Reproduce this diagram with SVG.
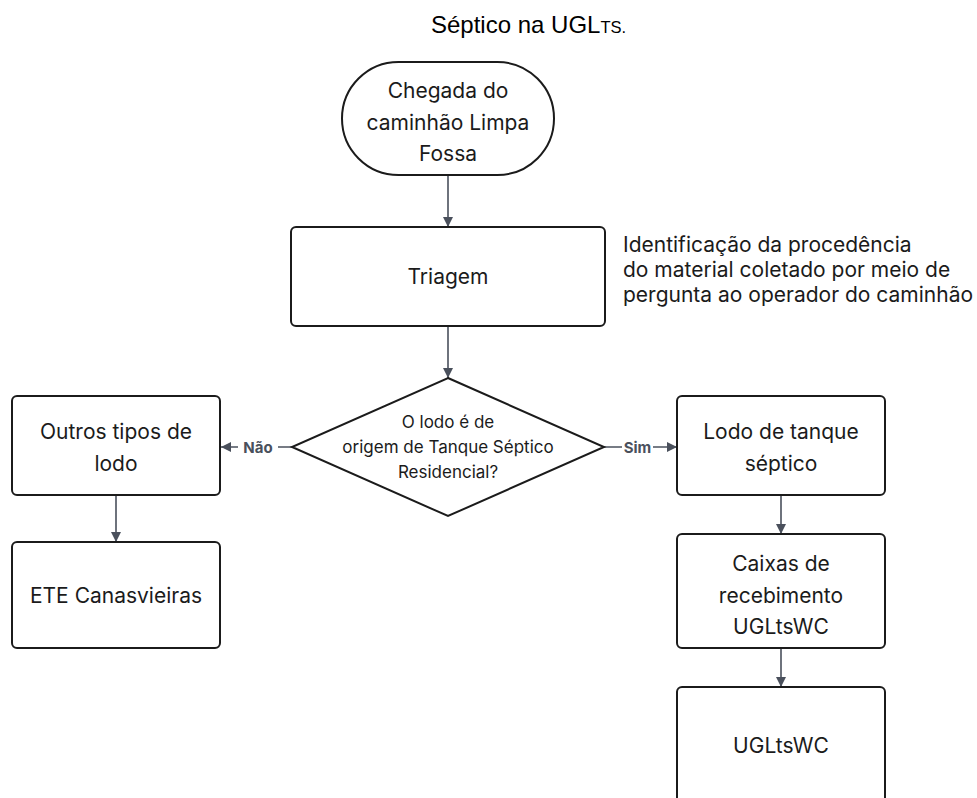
<svg xmlns="http://www.w3.org/2000/svg" width="977" height="798" viewBox="0 0 977 798">
  <style>
    .node { fill: #ffffff; stroke: #1b1b1b; stroke-width: 2; }
    .lbl { font-family: Inter, "Liberation Sans", sans-serif; font-size: 21px; fill: #1b1b1b; text-anchor: middle; }
    .dlbl { font-family: Inter, "Liberation Sans", sans-serif; font-size: 17px; fill: #1b1b1b; text-anchor: middle; }
    .note { font-family: Inter, "Liberation Sans", sans-serif; font-size: 21px; fill: #1b1b1b; }
    .edge { fill: none; stroke: #4a505c; stroke-width: 1.6; }
    .elbl { font-family: Inter, "Liberation Sans", sans-serif; font-size: 15px; font-weight: bold; fill: #4a505c; text-anchor: middle; }
    .title { font-family: "Liberation Sans", Arial, sans-serif; fill: #000000; }
  </style>
  <defs>
    <marker id="arrow" viewBox="0 0 10 10" refX="10" refY="5" markerWidth="10" markerHeight="10" markerUnits="userSpaceOnUse" orient="auto">
      <path d="M0,0 L10,5 L0,10 z" fill="#4a505c"/>
    </marker>
  </defs>
  <rect width="977" height="798" fill="#ffffff"/>

  <!-- caption -->
  <text class="title" x="431" y="33" font-size="24">Séptico na UGL<tspan font-size="16.5">TS.</tspan></text>

  <!-- connectors -->
  <g id="connectors">
    <path class="edge" d="M448,175 L448,227" marker-end="url(#arrow)"/>
    <path class="edge" d="M448,326 L448,378" marker-end="url(#arrow)"/>
    <path class="edge" d="M292,447 L221,447" marker-end="url(#arrow)"/>
    <rect x="238" y="437" width="40" height="20" fill="#ffffff"/>
    <text class="elbl" x="258" y="452.5">Não</text>
    <path class="edge" d="M604,447 L677,447" marker-end="url(#arrow)"/>
    <rect x="622" y="437" width="31" height="20" fill="#ffffff"/>
    <text class="elbl" x="637.5" y="452.5">Sim</text>
    <path class="edge" d="M116,495 L116,542" marker-end="url(#arrow)"/>
    <path class="edge" d="M781,495 L781,534" marker-end="url(#arrow)"/>
    <path class="edge" d="M781,648 L781,687" marker-end="url(#arrow)"/>
  </g>

  <g id="start">
    <rect class="node" x="342" y="62" width="212" height="113" rx="56.5" ry="56.5"/>
    <text class="lbl" x="448" y="98">Chegada do</text>
    <text class="lbl" x="448" y="130">caminhão Limpa</text>
    <text class="lbl" x="448" y="161">Fossa</text>
  </g>

  <g id="triagem">
    <rect class="node" x="291" y="227" width="314" height="99" rx="5"/>
    <text class="lbl" x="448" y="284">Triagem</text>
  </g>

  <g id="nota-triagem">
    <text class="note" x="623" y="252">Identificação da procedência</text>
    <text class="note" x="623" y="277">do material coletado por meio de</text>
    <text class="note" x="623" y="302">pergunta ao operador do caminhão</text>
  </g>

  <g id="decisao">
    <polygon class="node" points="448,378 604,447 448,516 292,447"/>
    <text class="dlbl" x="448" y="428">O lodo é de</text>
    <text class="dlbl" x="448" y="453">origem de Tanque Séptico</text>
    <text class="dlbl" x="448" y="478">Residencial?</text>
  </g>

  <g id="outros">
    <rect class="node" x="12" y="396" width="208" height="99" rx="5"/>
    <text class="lbl" x="116" y="439">Outros tipos de</text>
    <text class="lbl" x="116" y="471">lodo</text>
  </g>

  <g id="ete">
    <rect class="node" x="12" y="542" width="208" height="106" rx="5"/>
    <text class="lbl" x="116" y="603">ETE Canasvieiras</text>
  </g>

  <g id="lodo-tanque">
    <rect class="node" x="677" y="396" width="208" height="99" rx="5"/>
    <text class="lbl" x="781" y="439">Lodo de tanque</text>
    <text class="lbl" x="781" y="471">séptico</text>
  </g>

  <g id="caixas">
    <rect class="node" x="677" y="534" width="208" height="114" rx="5"/>
    <text class="lbl" x="781" y="571">Caixas de</text>
    <text class="lbl" x="781" y="603">recebimento</text>
    <text class="lbl" x="781" y="634">UGLtsWC</text>
  </g>

  <g id="ugltswc">
    <rect class="node" x="677" y="687" width="208" height="130" rx="5"/>
    <text class="lbl" x="781" y="753">UGLtsWC</text>
  </g>
</svg>
